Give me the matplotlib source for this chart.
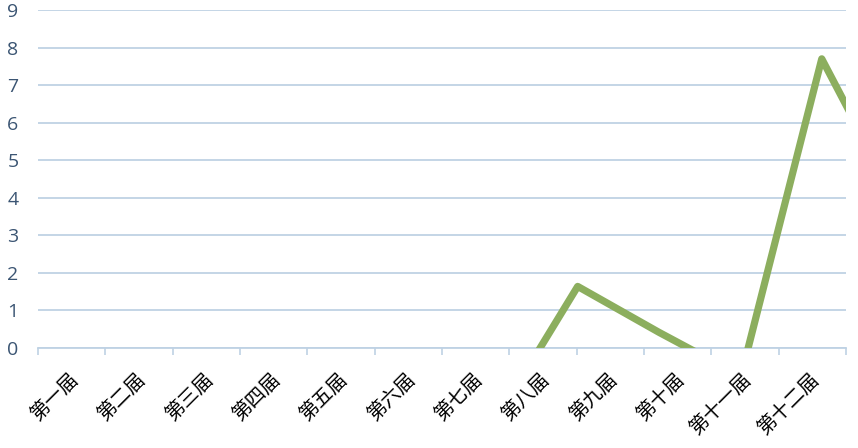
import matplotlib
matplotlib.use("Agg")
import matplotlib.pyplot as plt
import matplotlib.transforms as mtransforms

categories = ["第一届", "第二届", "第三届", "第四届", "第五届", "第六届",
              "第七届", "第八届", "第九届", "第十届", "第十一届", "第十二届"]
# line series: positions in category units (0 = first category) and values
line_x = [6.31, 7.515, 8.72, 9.94, 11.14, 12.34]
line_y = [-1.9, 1.64, 0.42, -0.75, 7.7, 3.6]
y_ticks = list(range(0, 10))

grid_color = "#BFD2E4"
fig = plt.figure(figsize=(8.58, 4.48), dpi=100)
ax = fig.add_axes([38/858, 1-348/448, (846-38)/858, (348-10)/448])

ax.plot(line_x, line_y, color="#8CAE5E", lw=5.2, solid_joinstyle="round",
        solid_capstyle="butt", clip_on=True, zorder=3)

ax.set_xlim(-0.5, len(categories) - 0.5)
ax.set_ylim(0, 9)
ax.set_yticks(y_ticks)
ax.set_yticklabels([str(v) for v in y_ticks], family="Open Sans", fontsize=14,
                   color="#3B5573")
ax.tick_params(axis="y", length=0, pad=14)

ax.set_xticks([i + 0.5 for i in range(-1, len(categories))], minor=False)
ax.set_xticklabels([])
ax.tick_params(axis="x", which="major", length=5, color=grid_color, width=1.2, direction="out")
ax.set_xticks(range(len(categories)), minor=True)
ax.set_xticklabels(categories, minor=True, rotation=45, ha="right", va="top",
                   rotation_mode="anchor", family=["Noto Sans CJK SC", "DejaVu Sans"],
                   fontsize=14, fontweight="light", color="#000000")
ax.tick_params(axis="x", which="minor", length=0, pad=15)
offset = mtransforms.ScaledTranslation(-4/100, 0, fig.dpi_scale_trans)
for lab in ax.get_xticklabels(minor=True):
    lab.set_transform(lab.get_transform() + offset)

ax.grid(axis="y", color=grid_color, lw=1.3)
ax.set_axisbelow(True)
for s in ["top", "right", "left"]:
    ax.spines[s].set_visible(False)
ax.spines["bottom"].set_color(grid_color)
ax.spines["bottom"].set_linewidth(1.3)

fig.savefig("out.png", dpi=100)
